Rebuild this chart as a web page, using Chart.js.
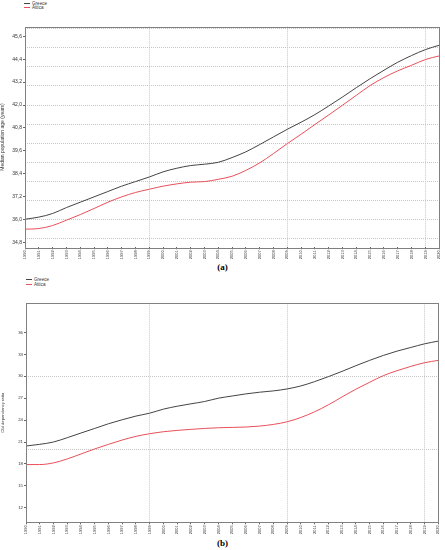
<!DOCTYPE html>
<html>
<head>
<meta charset="utf-8">
<script src="https://cdn.jsdelivr.net/npm/chart.js@4/dist/chart.umd.min.js"></script>
<style>
  html, body { margin:0; padding:0; background:#fff; }
  #wrap { position:relative; width:445px; height:550px; overflow:hidden; font-family:"Liberation Sans", Arial, sans-serif; }
  .cv { position:absolute; left:0; }
  .legend { position:absolute; font-size:4.6px; line-height:4.6px; color:#333; }
  .legend div { position:relative; height:4.6px; white-space:nowrap; }
  .legend span.sw { display:inline-block; width:6px; height:0; border-top:1px solid; vertical-align:middle; margin-right:2px; }
  .cap { position:absolute; width:445px; text-align:center; font-family:"Liberation Serif", "DejaVu Serif", serif; font-weight:bold; font-size:9px; color:#000; }
</style>
</head>
<body>
<div id="wrap">
  <div class="legend" style="left:24px; top:1.5px;">
    <div><span class="sw" style="border-color:#444"></span>Greece</div>
    <div><span class="sw" style="border-color:#e8505a"></span>Attica</div>
  </div>
  <div class="cv" style="top:0; width:445px; height:262px;"><canvas id="c1"></canvas></div>
  <div class="cap" style="top:262px;">(a)</div>

  <div class="legend" style="left:26px; top:278px;">
    <div><span class="sw" style="border-color:#444"></span>Greece</div>
    <div><span class="sw" style="border-color:#e8505a"></span>Attica</div>
  </div>
  <div class="cv" style="top:280px; width:445px; height:258px;"><canvas id="c2"></canvas></div>
  <div class="cap" style="top:538px;">(b)</div>
</div>
<script>
// ---------- data ----------
const years = ['1990','1991','1992','1993','1994','1995','1996','1997','1998','1999','2000','2001','2002','2003','2004','2005','2006','2007','2008','2009','2010','2011','2012','2013','2014','2015','2016','2017','2018','2019','2020'];
const seriesNames = ['Greece','Attica'];

const greeceMedianAge = [36.02,36.13,36.32,36.63,36.91,37.19,37.47,37.75,37.99,38.23,38.50,38.69,38.83,38.90,39.00,39.25,39.55,39.93,40.33,40.73,41.10,41.50,41.95,42.42,42.91,43.38,43.82,44.24,44.59,44.90,45.13];
const atticaMedianAge = [35.50,35.53,35.69,35.97,36.26,36.58,36.91,37.19,37.42,37.59,37.75,37.87,37.96,37.99,38.11,38.27,38.58,38.97,39.46,39.98,40.47,40.98,41.48,41.99,42.51,43.02,43.44,43.79,44.08,44.38,44.57];

const greeceOldDep = [20.45,20.68,21.00,21.59,22.23,22.86,23.50,24.05,24.55,24.95,25.50,25.90,26.23,26.55,27.00,27.30,27.59,27.82,28.00,28.27,28.68,29.27,29.95,30.68,31.45,32.18,32.86,33.45,33.95,34.45,34.82];
const atticaOldDep = [17.91,17.91,18.14,18.68,19.36,20.05,20.68,21.27,21.77,22.14,22.41,22.59,22.73,22.86,22.95,23.00,23.05,23.18,23.41,23.77,24.36,25.14,26.09,27.18,28.23,29.18,30.09,30.77,31.36,31.86,32.18];

const medianTicks = [34.8,36.0,37.2,38.4,39.6,40.8,42.0,43.2,44.4,45.6];
const medianGridValues = [35,36,37,38,39,40,41,42,43,44,45,46];
const oldDepTicks = [12,15,18,21,24,27,30,33,36];
const oldDepGridValues = [20,30];
const xGridYears = ['1999','2009','2019'];

const axisTitleA = 'Median population age (years)';
const axisTitleB = 'Old dependency ratio';

// ---------- helpers ----------
const FONT = '"Liberation Sans", Arial, sans-serif';
const greeceColor = '#444444';
const atticaColor = '#e8505a';
const gridColor = '#c6c6c6';

const framePlugin = {
  id: 'frame',
  afterDatasetsDraw(chart) {
    const a = chart.chartArea, ctx = chart.ctx;
    ctx.save();
    ctx.strokeStyle = '#808080';
    ctx.lineWidth = 1;
    ctx.strokeRect(Math.round(a.left) + 0.5, Math.round(a.top) + 0.5, Math.round(a.right - a.left), Math.round(a.bottom - a.top));
    ctx.restore();
  }
};

function makeChart(id, o) {
  return new Chart(document.getElementById(id), {
    type: 'line',
    data: {
      labels: years,
      datasets: [
        { label: seriesNames[0], data: o.greece, borderColor: greeceColor, backgroundColor: greeceColor, borderWidth: 1, pointRadius: 0, tension: 0.4, cubicInterpolationMode: 'monotone', fill: false },
        { label: seriesNames[1], data: o.attica, borderColor: atticaColor, backgroundColor: atticaColor, borderWidth: 1, pointRadius: 0, tension: 0.4, cubicInterpolationMode: 'monotone', fill: false }
      ]
    },
    options: {
      responsive: true,
      maintainAspectRatio: false,
      animation: false,
      devicePixelRatio: 1,
      layout: { padding: { top: o.padTop, right: o.padRight, left: 0, bottom: 0 } },
      plugins: { legend: { display: false }, tooltip: { enabled: false } },
      scales: {
        x: {
          type: 'category',
          offset: false,
          grid: {
            drawOnChartArea: true,
            color: (c) => (c.tick && xGridYears.includes(years[c.index])) ? gridColor : 'rgba(0,0,0,0)',
            tickColor: '#666',
            tickLength: 2,
            lineWidth: 1
          },
          border: { display: false, dash: [1, 1] },
          ticks: {
            autoSkip: false, maxRotation: 90, minRotation: 90,
            font: { family: FONT, size: o.xFont }, color: '#333', padding: 1
          },
          afterFit(s) { s.height = o.xHeight; }
        },
        y: {
          type: 'linear',
          position: 'left',
          min: o.min, max: o.max,
          afterBuildTicks(s) { s.ticks = o.ticks.map(v => ({ value: v })); },
          ticks: {
            font: { family: FONT, size: o.yFont }, color: '#333', padding: 1,
            callback: (v) => o.fmt(v)
          },
          grid: { drawOnChartArea: false, drawTicks: true, tickLength: 2, tickColor: '#666' },
          border: { display: false },
          title: { display: true, text: o.title, font: { family: FONT, size: o.titleFont }, color: '#333', padding: { top: 0, bottom: 0 } },
          afterFit(s) { s.width = o.yWidth; }
        },
        yg: {
          type: 'linear',
          position: 'left',
          min: o.min, max: o.max,
          afterBuildTicks(s) { s.ticks = o.grid.map(v => ({ value: v })); },
          ticks: { display: false },
          grid: { drawOnChartArea: true, drawTicks: false, color: gridColor, lineWidth: 1 },
          border: { display: false, dash: [1, 1] },
          afterFit(s) { s.width = 0; }
        }
      }
    },
    plugins: [framePlugin]
  });
}

const chartA = makeChart('c1', {
  greece: greeceMedianAge, attica: atticaMedianAge,
  min: 34.55, max: 46.1, ticks: medianTicks, grid: medianGridValues,
  fmt: (v) => v.toFixed(1).replace('.', ','),
  title: axisTitleA, titleFont: 5, yFont: 5, xFont: 4,
  padTop: 26.7, padRight: 3.3, yWidth: 25, xHeight: 14.7
});

const chartB = makeChart('c2', {
  greece: greeceOldDep, attica: atticaOldDep,
  min: 10, max: 40, ticks: oldDepTicks, grid: oldDepGridValues,
  fmt: (v) => String(v),
  title: axisTitleB, titleFont: 4.2, yFont: 4.3, xFont: 4,
  padTop: 23.3, padRight: 6.7, yWidth: 26, xHeight: 15.7
});
</script>
</body>
</html>
